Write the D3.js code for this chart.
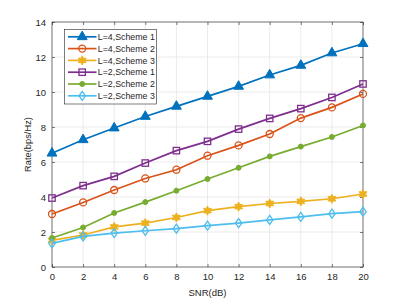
<!DOCTYPE html>
<html>
<head>
<meta charset="utf-8">
<script src="https://cdn.jsdelivr.net/npm/d3@7"></script>
<style>
body { margin: 0; background: #fff; }
text { font-family: "Liberation Sans", Arial, sans-serif; }
</style>
</head>
<body>
<div id="chart"></div>
<script>
// data
let snr = [0, 2, 4, 6, 8, 10, 12, 14, 16, 18, 20];
let l4s1 = [6.5, 7.27, 7.94, 8.6, 9.18, 9.75, 10.32, 10.97, 11.52, 12.23, 12.76];
let l4s2 = [3.03, 3.69, 4.4, 5.06, 5.56, 6.36, 6.95, 7.6, 8.51, 9.12, 9.89];
let l4s3 = [1.52, 1.83, 2.29, 2.51, 2.83, 3.22, 3.45, 3.63, 3.75, 3.9, 4.17];
let l2s1 = [3.94, 4.65, 5.18, 5.94, 6.65, 7.18, 7.88, 8.49, 9.05, 9.69, 10.46];
let l2s2 = [1.66, 2.26, 3.09, 3.71, 4.36, 5.03, 5.67, 6.32, 6.88, 7.43, 8.09];
let l2s3 = [1.35, 1.75, 1.94, 2.07, 2.19, 2.36, 2.51, 2.69, 2.86, 3.05, 3.16];
let names = ["L=4,Scheme 1", "L=4,Scheme 2", "L=4,Scheme 3", "L=2,Scheme 1", "L=2,Scheme 2", "L=2,Scheme 3"];
let xTicks = [0, 2, 4, 6, 8, 10, 12, 14, 16, 18, 20];
let yTicks = [0, 2, 4, 6, 8, 10, 12, 14];

let series = [
	{ name: names[0], values: l4s1, color: "#0072BD", marker: "triangle" },
	{ name: names[1], values: l4s2, color: "#D95319", marker: "circle" },
	{ name: names[2], values: l4s3, color: "#EDB120", marker: "star" },
	{ name: names[3], values: l2s1, color: "#7E2F8E", marker: "square" },
	{ name: names[4], values: l2s2, color: "#77AC30", marker: "dot" },
	{ name: names[5], values: l2s3, color: "#4DBEEE", marker: "diamond" }
];

let panel = { width: 402, height: 301 };
let margin = { left: 52, right: 39, top: 22, bottom: 34 };
let w = panel.width - margin.left - margin.right;
let h = panel.height - margin.top - margin.bottom;

let svg = d3.select("#chart").append("svg")
	.attr("width", panel.width)
	.attr("height", panel.height);

let g = svg.append("g").attr("transform", "translate(" + margin.left + "," + margin.top + ")");

let x = d3.scaleLinear().domain([0, 20]).range([0, w]);
let y = d3.scaleLinear().domain([0, 14]).range([h, 0]);

// grid
g.append("g").selectAll("line").data(xTicks).enter().append("line")
	.attr("x1", d => x(d)).attr("x2", d => x(d))
	.attr("y1", 0).attr("y2", h)
	.attr("stroke", "#e6e6e6").attr("stroke-width", 0.8);
g.append("g").selectAll("line").data(yTicks).enter().append("line")
	.attr("y1", d => y(d)).attr("y2", d => y(d))
	.attr("x1", 0).attr("x2", w)
	.attr("stroke", "#e6e6e6").attr("stroke-width", 0.8);

// axes, ticks pointing inward like matlab
function styleAxis(sel) {
	sel.select(".domain").remove();
	sel.selectAll(".tick line").attr("stroke", "#262626").attr("stroke-width", 0.6);
	sel.selectAll(".tick text").attr("fill", "#262626").style("font-size", "9.5px");
}
g.append("g").attr("transform", "translate(0," + h + ")")
	.call(d3.axisBottom(x).tickValues(xTicks).tickSizeInner(-3).tickSizeOuter(0).tickPadding(6))
	.call(styleAxis);
g.append("g")
	.call(d3.axisLeft(y).tickValues(yTicks).tickSizeInner(-3).tickSizeOuter(0).tickPadding(6))
	.call(styleAxis);
g.append("g")
	.call(d3.axisTop(x).tickValues(xTicks).tickSizeInner(-3).tickSizeOuter(0).tickFormat(""))
	.call(styleAxis);
g.append("g").attr("transform", "translate(" + w + ",0)")
	.call(d3.axisRight(y).tickValues(yTicks).tickSizeInner(-3).tickSizeOuter(0).tickFormat(""))
	.call(styleAxis);

g.append("rect")
	.attr("width", w).attr("height", h)
	.attr("fill", "none").attr("stroke", "#262626").attr("stroke-width", 0.6);

let line = d3.line().x((d, i) => x(snr[i])).y(d => y(d));

// six pointed star, matlab "hexagram"
function hexagram(r) {
	let pts = [];
	for (let k = 0; k < 12; k++) {
		let a = -Math.PI / 2 + k * Math.PI / 6;
		let rr = k % 2 === 0 ? r : r * 0.55;
		pts.push([rr * Math.cos(a), rr * Math.sin(a)]);
	}
	return "M" + pts.map(p => p[0].toFixed(2) + "," + p[1].toFixed(2)).join("L") + "Z";
}

function drawMarker(sel, s) {
	let c = s.color;
	if (s.marker === "triangle") {
		sel.append("path").attr("d", d3.symbol(d3.symbolTriangle, 42)())
			.attr("fill", c).attr("stroke", c).attr("stroke-width", 1);
	} else if (s.marker === "circle") {
		sel.append("circle").attr("r", 3.5)
			.attr("fill", "none").attr("stroke", c).attr("stroke-width", 1.3);
	} else if (s.marker === "star") {
		sel.append("path").attr("d", hexagram(4.6))
			.attr("fill", c).attr("stroke", c).attr("stroke-width", 0.9);
	} else if (s.marker === "square") {
		sel.append("rect").attr("x", -3.2).attr("y", -3.2).attr("width", 6.4).attr("height", 6.4)
			.attr("fill", "none").attr("stroke", c).attr("stroke-width", 1.3);
	} else if (s.marker === "dot") {
		sel.append("circle").attr("r", 2.5).attr("fill", c).attr("stroke", c);
	} else {
		sel.append("path").attr("d", "M0,-4.5L3.2,0L0,4.5L-3.2,0Z")
			.attr("fill", "none").attr("stroke", c).attr("stroke-width", 1.3);
	}
}

series.forEach(s => {
	g.append("path")
		.datum(s.values)
		.attr("d", line)
		.attr("fill", "none")
		.attr("stroke", s.color)
		.attr("stroke-width", 1.7);
	g.append("g").selectAll("g").data(s.values).enter().append("g")
		.attr("transform", (d, i) => "translate(" + x(snr[i]) + "," + y(d) + ")")
		.each(function() { drawMarker(d3.select(this), s); });
});

// legend
let legend = svg.append("g").attr("transform", "translate(64.5,29.5)");
legend.append("rect")
	.attr("width", 92).attr("height", 74.5)
	.attr("fill", "#fff").attr("stroke", "#262626").attr("stroke-width", 0.6);
series.forEach((s, i) => {
	let row = legend.append("g").attr("transform", "translate(0," + (7.3 + i * 11.8) + ")");
	row.append("line").attr("x1", 3.5).attr("x2", 32).attr("y1", 0).attr("y2", 0)
		.attr("stroke", s.color).attr("stroke-width", 1.7);
	let m = row.append("g").attr("transform", "translate(17.7,0)");
	drawMarker(m, s);
	row.append("text").attr("x", 33.3).attr("y", 3.2)
		.attr("fill", "#262626").style("font-size", "8.8px")
		.text(s.name);
});

// axis labels
svg.append("text")
	.attr("x", margin.left + w / 2).attr("y", 296)
	.attr("text-anchor", "middle").attr("fill", "#262626").style("font-size", "9.5px")
	.text("SNR(dB)");
svg.append("text")
	.attr("transform", "translate(31," + (margin.top + h / 2) + ") rotate(-90)")
	.attr("text-anchor", "middle").attr("fill", "#262626").style("font-size", "9.3px")
	.text("Rate(bps/Hz)");
</script>
</body>
</html>
